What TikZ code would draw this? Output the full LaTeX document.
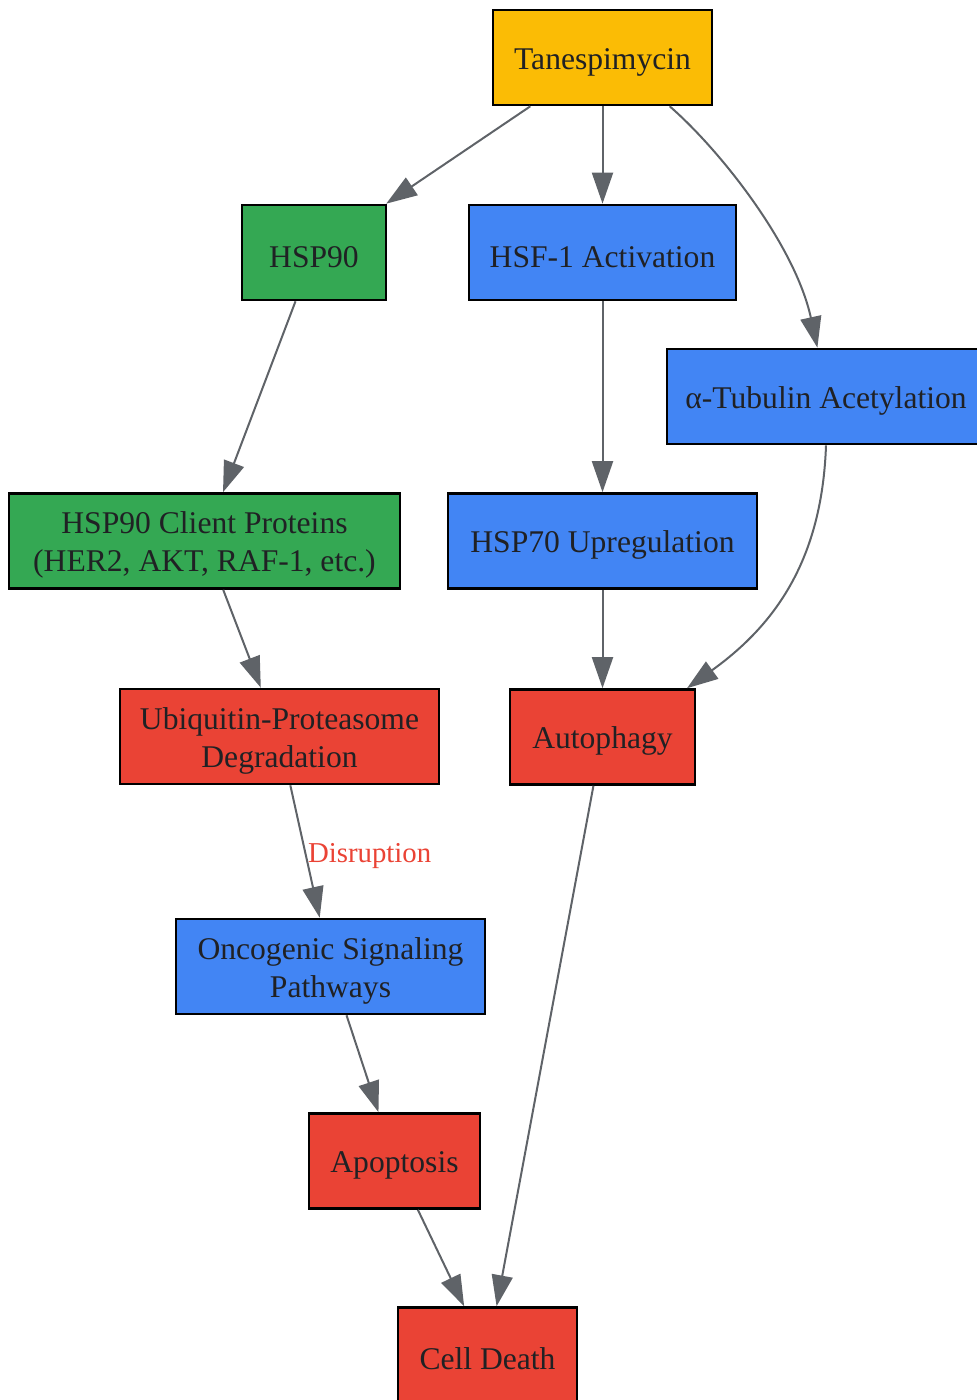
\documentclass[tikz,border=0pt]{standalone}
\usepackage{fontspec}
\setmainfont{Liberation Serif}
\usetikzlibrary{arrows.meta}
\definecolor{tanesyellow}{HTML}{FBBC05}
\definecolor{hspgreen}{HTML}{34A853}
\definecolor{pathblue}{HTML}{4285F4}
\definecolor{deathred}{HTML}{EA4335}
\definecolor{edgegray}{HTML}{5F6368}
\definecolor{textgray}{HTML}{202124}
\newcommand{\boxstrut}{\rule{0pt}{15pt}}
\tikzset{
  box/.style={draw=black, line width=1.3pt, text=textgray, align=center,
    minimum height=47.5pt, inner sep=0pt, font=\fontsize{15.8}{19}\selectfont},
  link/.style={draw=edgegray, line width=1pt, -{Triangle[length=15.5pt,width=10.5pt]}}
}

\begin{document}
\begin{tikzpicture}[x=0.5pt, y=-0.5pt]
  \useasboundingbox (0,0) rectangle (977,1400);

  \node[box, fill=tanesyellow, minimum width=109.5pt] (TANES) at (602.5,57.5) {\boxstrut Tanespimycin};
  \node[box, fill=hspgreen, minimum width=72pt] (HSP90) at (314,252.5) {\boxstrut HSP90};
  \node[box, fill=pathblue, minimum width=133.5pt] (HSF) at (602.5,252.5) {\boxstrut HSF-1 Activation};
  \node[box, fill=pathblue, minimum width=159pt] (ATUB) at (826,396.5) {\boxstrut α-Tubulin Acetylation};
  \node[box, fill=hspgreen, minimum width=195.5pt] (CLIENT) at (204.5,541) {\boxstrut HSP90 Client Proteins\\(HER2, AKT, RAF-1, etc.)};
  \node[box, fill=pathblue, minimum width=154.5pt] (HSP70) at (602.5,541) {\boxstrut HSP70 Upregulation};
  \node[box, fill=deathred, minimum width=159.5pt] (UBQ) at (279.5,736.5) {\boxstrut Ubiquitin-Proteasome\\Degradation};
  \node[box, fill=deathred, minimum width=92.5pt] (AUTO) at (602.5,737) {\boxstrut Autophagy};
  \node[box, fill=pathblue, minimum width=154.5pt] (ONCO) at (330.5,966.5) {\boxstrut Oncogenic Signaling\\Pathways};
  \node[box, fill=deathred, minimum width=85.5pt] (APOP) at (394.5,1161) {\boxstrut Apoptosis};
  \node[box, fill=deathred, minimum width=89.5pt] (DEATH) at (487.5,1355) {\boxstrut Cell Death};

  \draw[link] (TANES) -- (HSP90);
  \draw[link] (TANES) -- (HSF);
  \draw[link] (TANES.-36.4) .. controls (720,150) and (795,245) .. (ATUB.100.7);
  \draw[link] (HSP90) -- (CLIENT);
  \draw[link] (HSF) -- (HSP70);
  \draw[link] (CLIENT) -- (UBQ);
  \draw[link] (HSP70) -- (AUTO);
  \draw[link] (ATUB.south) .. controls (822,560) and (775,625) .. (AUTO.30.5);
  \draw[link] (UBQ) -- node[midway, right, inner sep=1pt, yshift=-2.5pt, text=deathred, font=\fontsize{14.4}{17}\selectfont] {Disruption} (ONCO);
  \draw[link] (ONCO) -- (APOP);
  \draw[link] (APOP) -- (DEATH);
  \draw[link] (AUTO) -- (DEATH);
\end{tikzpicture}
\end{document}
